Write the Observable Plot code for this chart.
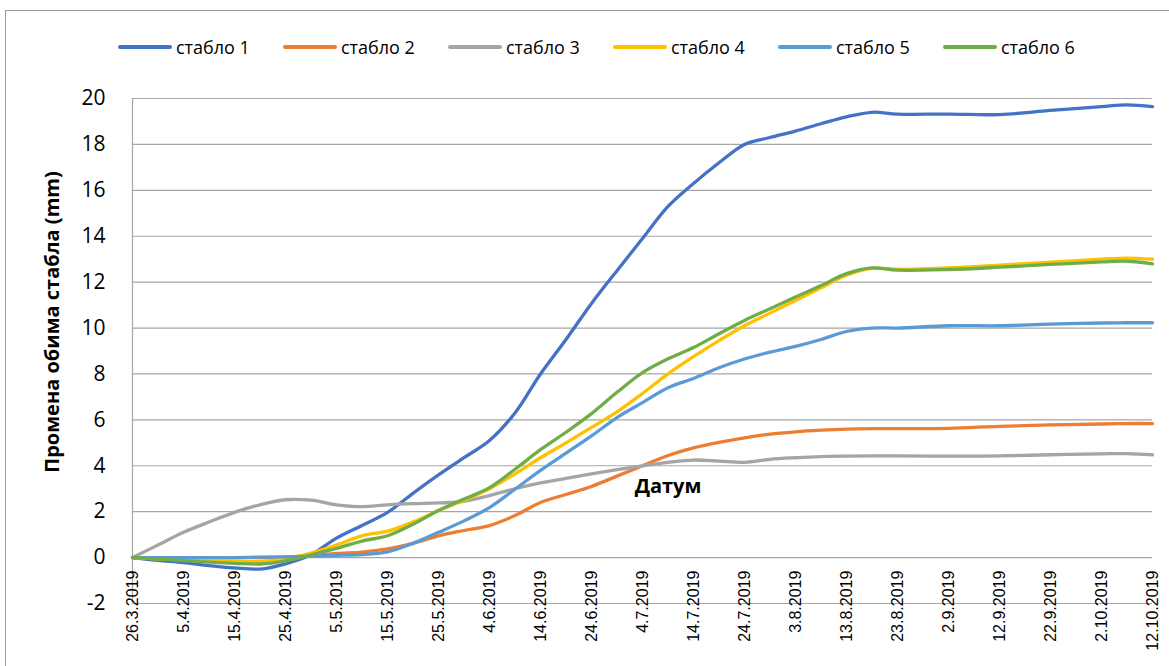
<!DOCTYPE html>
<html>
<head>
<meta charset="utf-8">
<script src="https://cdn.jsdelivr.net/npm/d3@7"></script>
<script src="https://cdn.jsdelivr.net/npm/@observablehq/plot@0.6"></script>
<style>
  html, body { margin: 0; padding: 0; background: #fff; overflow: hidden; }
  #wrap { position: relative; width: 1169px; height: 666px; }
  #frame { position: absolute; left: 5px; top: 10px; width: 1300px; height: 800px; border: 1px solid #9a9a9a; box-sizing: border-box; }
  #legend { position: absolute; left: 118px; top: 35px; height: 24px; display: flex; align-items: center; font-family: "Open Sans", sans-serif; font-size: 18px; color: #000; }
  .item { width: 165px; display: flex; align-items: center; white-space: nowrap; }
  .sw { width: 54px; height: 3.5px; border-radius: 2px; margin-right: 4px; }
  #chart { position: absolute; left: 0; top: 0; }
</style>
</head>
<body>
<div id="wrap">
  <div id="frame"></div>
  <div id="chart"></div>
  <div id="legend"></div>
</div>
<script>
// Measurement dates (every 5–10 days)
const dates = ["2019-03-26","2019-03-31","2019-04-05","2019-04-10","2019-04-15","2019-04-20","2019-04-25","2019-04-30",
  "2019-05-05","2019-05-10","2019-05-15","2019-05-20","2019-05-25","2019-05-30","2019-06-04","2019-06-09",
  "2019-06-14","2019-06-19","2019-06-24","2019-06-29","2019-07-04","2019-07-09","2019-07-14","2019-07-19",
  "2019-07-24","2019-07-29","2019-08-03","2019-08-08","2019-08-13","2019-08-18","2019-08-23","2019-09-02",
  "2019-09-12","2019-09-22","2019-10-02","2019-10-07","2019-10-12"];

const stablo1 = [0,-0.12,-0.22,-0.35,-0.45,-0.5,-0.27,0.12,0.85,1.4,1.97,2.8,3.6,4.35,5.1,6.3,8.0,9.5,11.07,12.5,13.9,15.3,16.3,17.2,18.0,18.3,18.58,18.9,19.2,19.4,19.32,19.32,19.3,19.48,19.65,19.72,19.65];
const stablo2 = [0,0,0,0,0,0,0.02,0.08,0.18,0.24,0.38,0.62,0.95,1.18,1.39,1.83,2.4,2.75,3.1,3.55,4.0,4.45,4.78,5.02,5.22,5.38,5.48,5.55,5.6,5.62,5.62,5.63,5.72,5.78,5.82,5.84,5.84];
const stablo3 = [0,0.55,1.1,1.55,1.97,2.3,2.52,2.5,2.3,2.22,2.3,2.35,2.38,2.45,2.7,3.0,3.25,3.45,3.65,3.83,4.0,4.15,4.25,4.2,4.15,4.28,4.35,4.4,4.42,4.43,4.43,4.42,4.43,4.48,4.52,4.53,4.48];
const stablo4 = [0,-0.05,-0.1,-0.14,-0.16,-0.17,-0.06,0.2,0.55,0.95,1.15,1.55,2.05,2.5,3.0,3.65,4.35,5.0,5.67,6.35,7.15,8.0,8.75,9.45,10.1,10.65,11.2,11.75,12.3,12.6,12.55,12.62,12.74,12.87,13.0,13.05,13.0];
const stablo5 = [0,0,0,0,0,0.02,0.03,0.06,0.1,0.13,0.25,0.62,1.1,1.6,2.18,2.98,3.8,4.55,5.3,6.1,6.75,7.4,7.8,8.27,8.65,8.95,9.2,9.5,9.85,10.0,10.0,10.1,10.1,10.17,10.22,10.23,10.23];
const stablo6 = [0,-0.06,-0.13,-0.2,-0.25,-0.28,-0.14,0.12,0.4,0.72,0.95,1.45,2.05,2.55,3.05,3.85,4.7,5.46,6.27,7.2,8.06,8.66,9.15,9.75,10.33,10.84,11.35,11.85,12.37,12.62,12.52,12.55,12.65,12.77,12.88,12.91,12.8];

const seriesNames = ["стабло 1","стабло 2","стабло 3","стабло 4","стабло 5","стабло 6"];
const seriesColors = ["#4472C4","#ED7D31","#A5A5A5","#FFC000","#5B9BD5","#70AD47"];

const tickDates = ["2019-03-26","2019-04-05","2019-04-15","2019-04-25","2019-05-05","2019-05-15","2019-05-25","2019-06-04",
  "2019-06-14","2019-06-24","2019-07-04","2019-07-14","2019-07-24","2019-08-03","2019-08-13","2019-08-23",
  "2019-09-02","2019-09-12","2019-09-22","2019-10-02","2019-10-12"];
const tickLabels = ["26.3.2019","5.4.2019","15.4.2019","25.4.2019","5.5.2019","15.5.2019","25.5.2019","4.6.2019",
  "14.6.2019","24.6.2019","4.7.2019","14.7.2019","24.7.2019","3.8.2019","13.8.2019","23.8.2019",
  "2.9.2019","12.9.2019","22.9.2019","2.10.2019","12.10.2019"];
const yTicks = [-2,0,2,4,6,8,10,12,14,16,18,20];

const yTitle = "Промена обима стабла (mm)";
const xTitle = "Датум";

const allSeries = [stablo1, stablo2, stablo3, stablo4, stablo5, stablo6];
const rows = [];
allSeries.forEach((vals, k) => {
  vals.forEach((v, i) => rows.push({date: new Date(dates[i]), value: v, series: seriesNames[k]}));
});
const ticks = tickDates.map((d, i) => ({date: new Date(d), label: tickLabels[i]}));

const chart = Plot.plot({
  width: 1169,
  height: 666,
  marginLeft: 132,
  marginRight: 17,
  marginTop: 98,
  marginBottom: 63,
  style: {background: "transparent", fontFamily: "Open Sans, sans-serif", color: "#000"},
  x: {type: "utc", domain: [new Date(tickDates[0]), new Date(tickDates[tickDates.length - 1])], axis: null},
  y: {domain: [-2, 20], axis: null},
  color: {domain: seriesNames, range: seriesColors},
  marks: [
    Plot.gridY(yTicks, {stroke: "#a6a6a6", strokeOpacity: 1, strokeWidth: 1.2}),
    Plot.ruleX([new Date(tickDates[0])], {stroke: "#a6a6a6", strokeWidth: 1.2}),
    Plot.axisY(yTicks, {anchor: "left", tickSize: 0, tickPadding: 27, fontSize: 21, fill: "#000", tickFormat: d => String(d), label: null}),
    Plot.text([yTitle], {frameAnchor: "left", textAnchor: "middle", rotate: -90, dx: -80, dy: -29, fontSize: 20, fontWeight: "bold", fill: "#000"}),
    Plot.text(ticks, {x: "date", y: () => 0, text: "label", rotate: -90, textAnchor: "end", dy: 13, fontSize: 16, fontFamily: "Liberation Sans, Arial, sans-serif", fill: "#000"}),
    Plot.line(rows, {x: "date", y: "value", z: "series", stroke: "series", curve: "catmull-rom", strokeWidth: 3.3, strokeLinecap: "round", strokeLinejoin: "round"}),
    Plot.text([xTitle], {x: () => new Date("2019-07-09"), y: () => 3.1, fontSize: 20, fontWeight: "bold", fill: "#000"})
  ]
});
document.getElementById("chart").appendChild(chart);

const legend = document.getElementById("legend");
seriesNames.forEach((name, i) => {
  const item = document.createElement("div");
  item.className = "item";
  const sw = document.createElement("div");
  sw.className = "sw";
  sw.style.background = seriesColors[i];
  const t = document.createElement("span");
  t.textContent = name;
  item.appendChild(sw);
  item.appendChild(t);
  legend.appendChild(item);
});
</script>
</body>
</html>
